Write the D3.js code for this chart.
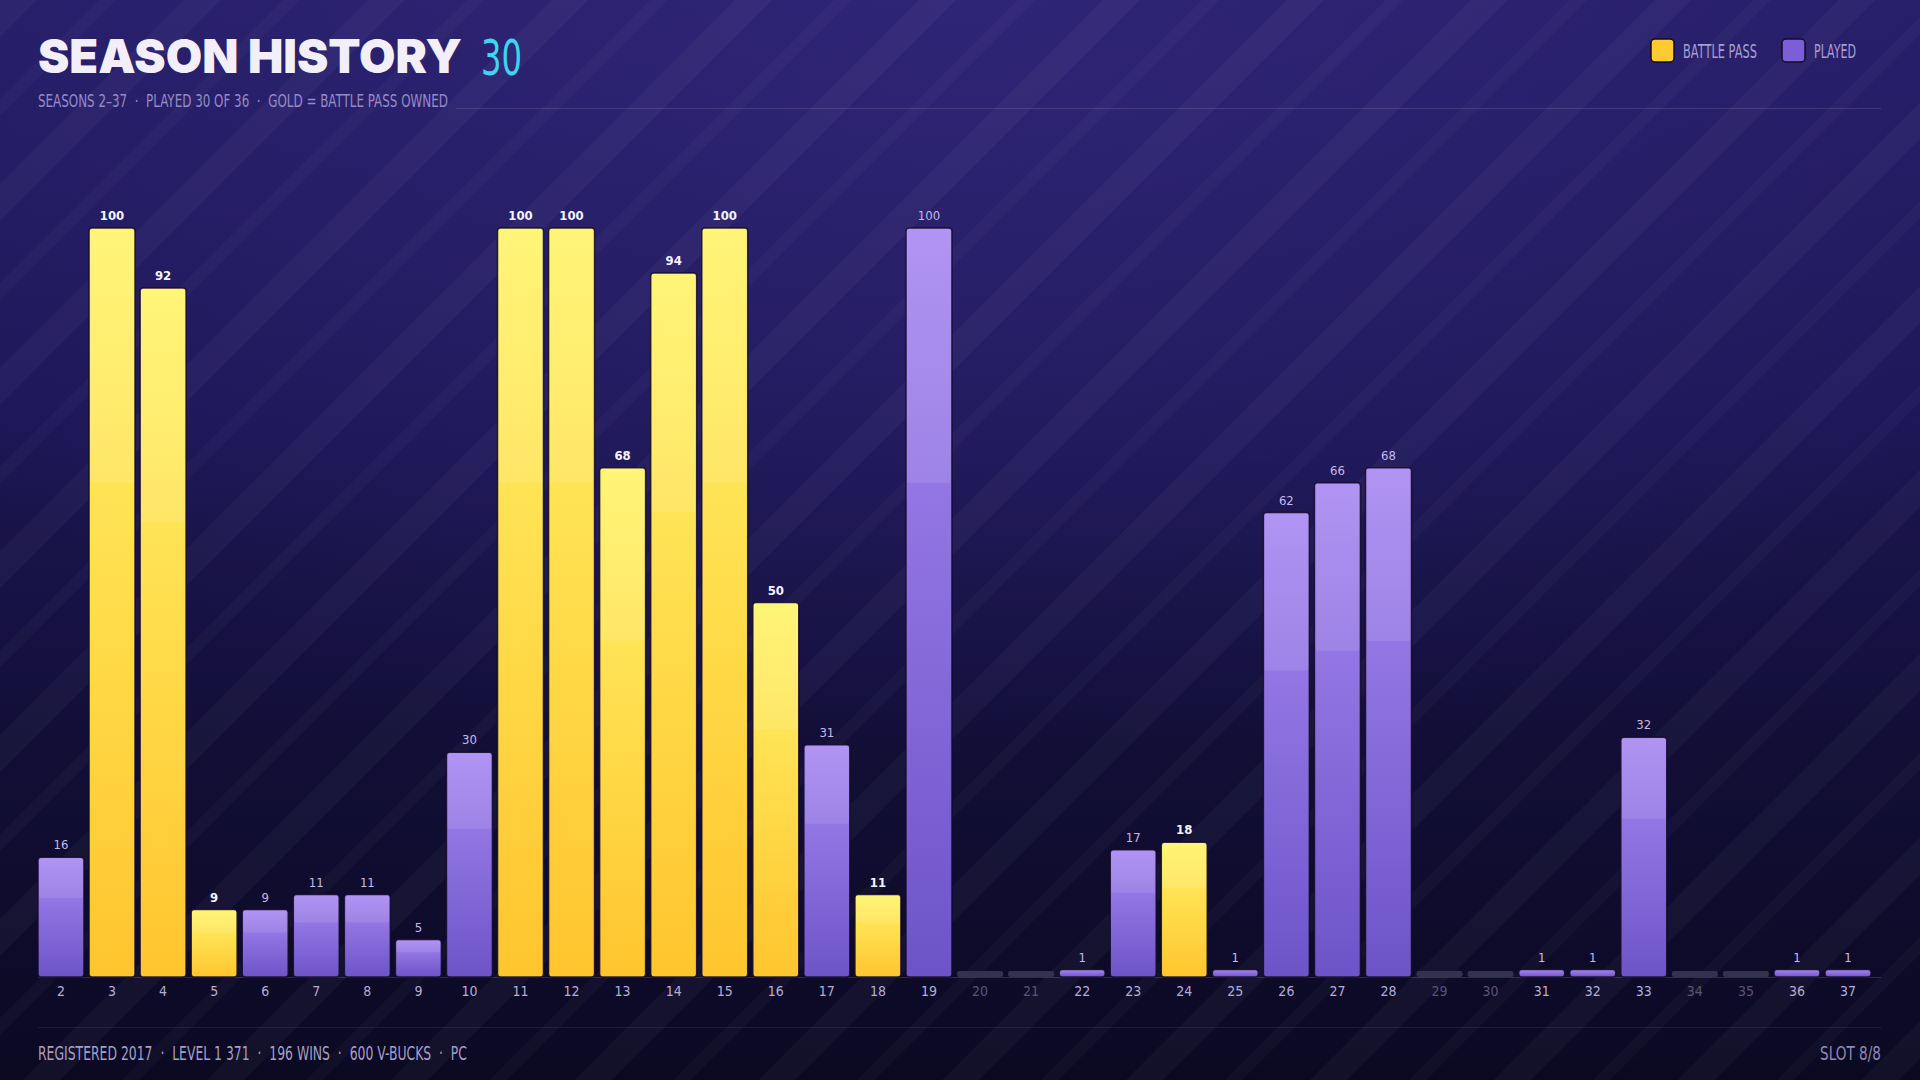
<!DOCTYPE html>
<html>
<head>
<meta charset="utf-8">
<script src="https://cdn.jsdelivr.net/npm/d3@7"></script>
<style>
  html, body { margin: 0; padding: 0; background: #120e34; }
  svg { display: block; }
</style>
</head>
<body>
<svg id="chart" width="1920" height="1080"></svg>
<script>
// season history data
var seasons = [2, 3, 4, 5, 6, 7, 8, 9, 10, 11, 12, 13, 14, 15, 16, 17, 18, 19, 20,
               21, 22, 23, 24, 25, 26, 27, 28, 29, 30, 31, 32, 33, 34, 35, 36, 37];
var levels = [16, 100, 92, 9, 9, 11, 11, 5, 30, 100, 100, 68, 94, 100, 50, 31, 11, 100, 0,
              0, 1, 17, 18, 1, 62, 66, 68, 0, 0, 1, 1, 32, 0, 0, 1, 1];
var battlePass = [0, 1, 1, 1, 0, 0, 0, 0, 0, 1, 1, 1, 1, 1, 1, 0, 1, 0, 0,
                  0, 0, 0, 1, 0, 0, 0, 0, 0, 0, 0, 0, 0, 0, 0, 0, 0];
var legendItems = ['BATTLE PASS', 'PLAYED'];
var titleText = 'SEASON HISTORY';
var titleCount = '30';
var subtitleText = 'SEASONS 2\u201337  \u00b7  PLAYED 30 OF 36  \u00b7  GOLD = BATTLE PASS OWNED';
var footerText = 'REGISTERED 2017  \u00b7  LEVEL 1 371  \u00b7  196 WINS  \u00b7  600 V-BUCKS  \u00b7  PC';
var slotText = 'SLOT 8/8';

var W = 1920, H = 1080;
var left = 38, right = 1881;
var baseY = 977, topY = 228;
var cond = '"Liberation Sans Narrow", "DejaVu Sans Condensed", "Roboto Condensed", sans-serif';

var data = seasons.map(function(s, i) {
  return {season: s, level: levels[i], bp: battlePass[i] === 1, played: levels[i] > 0};
});

var svg = d3.select('#chart');
var defs = svg.append('defs');

// background
var bg = defs.append('linearGradient').attr('id', 'bg')
  .attr('x1', 0).attr('y1', 0).attr('x2', 0).attr('y2', 1);
bg.append('stop').attr('offset', '0%').attr('stop-color', '#251c66');
bg.append('stop').attr('offset', '35%').attr('stop-color', '#1e1758');
bg.append('stop').attr('offset', '70%').attr('stop-color', '#120e36');
bg.append('stop').attr('offset', '100%').attr('stop-color', '#0b0922');

var glow = defs.append('radialGradient').attr('id', 'glow')
  .attr('cx', '50%').attr('cy', '0%').attr('r', '70%');
glow.append('stop').attr('offset', '0%').attr('stop-color', '#3a2e86').attr('stop-opacity', 0.5);
glow.append('stop').attr('offset', '100%').attr('stop-color', '#3a2e86').attr('stop-opacity', 0);

var stripes = defs.append('pattern').attr('id', 'stripes')
  .attr('patternUnits', 'userSpaceOnUse')
  .attr('width', 130).attr('height', 130)
  .attr('patternTransform', 'rotate(45)');
stripes.append('rect').attr('x', 0).attr('y', 0).attr('width', 26).attr('height', 130)
  .attr('fill', '#ffffff').attr('opacity', 0.03);
stripes.append('rect').attr('x', 70).attr('y', 0).attr('width', 12).attr('height', 130)
  .attr('fill', '#ffffff').attr('opacity', 0.022);

svg.append('rect').attr('width', W).attr('height', H).attr('fill', 'url(#bg)');
svg.append('rect').attr('width', W).attr('height', H).attr('fill', 'url(#glow)');
svg.append('rect').attr('width', W).attr('height', H).attr('fill', 'url(#stripes)');

// bar gradients
var gold = defs.append('linearGradient').attr('id', 'gold')
  .attr('x1', 0).attr('y1', 0).attr('x2', 0).attr('y2', 1);
gold.append('stop').attr('offset', '0%').attr('stop-color', '#fff46a');
gold.append('stop').attr('offset', '100%').attr('stop-color', '#ffc52e');

var purple = defs.append('linearGradient').attr('id', 'purple')
  .attr('x1', 0).attr('y1', 0).attr('x2', 0).attr('y2', 1);
purple.append('stop').attr('offset', '0%').attr('stop-color', '#a888f2');
purple.append('stop').attr('offset', '100%').attr('stop-color', '#6c54c8');

// scales
var x = d3.scaleBand()
  .domain(seasons)
  .range([left, 1871])
  .paddingInner(0.1)
  .paddingOuter(0);

var y = d3.scaleLinear()
  .domain([0, 100])
  .range([baseY, topY]);

// header
svg.append('text')
  .attr('x', left).attr('y', 73)
  .attr('font-family', 'Inter, "DejaVu Sans", sans-serif')
  .attr('font-weight', 900)
  .attr('font-size', 47)
  .attr('fill', '#f2effb')
  .attr('textLength', 424)
  .attr('lengthAdjust', 'spacingAndGlyphs')
  .text(titleText);

svg.append('text')
  .attr('x', 481).attr('y', 75)
  .attr('font-family', cond)
  .attr('font-size', 50)
  .attr('fill', '#3dd5f0')
  .attr('textLength', 41)
  .attr('lengthAdjust', 'spacingAndGlyphs')
  .text(titleCount);

svg.append('text')
  .attr('x', left).attr('y', 107)
  .attr('font-family', cond)
  .attr('font-size', 18)
  .attr('fill', '#938cc6')
  .attr('textLength', 410)
  .attr('lengthAdjust', 'spacingAndGlyphs')
  .style('white-space', 'pre')
  .text(subtitleText);

svg.append('line')
  .attr('x1', 456).attr('x2', right)
  .attr('y1', 108.5).attr('y2', 108.5)
  .attr('stroke', '#ffffff').attr('stroke-opacity', 0.12);

// legend
var legendX = [1651, 1782];
var legendW = [74, 42];
var lg = svg.append('g').selectAll('g')
  .data(legendItems)
  .enter().append('g')
  .attr('transform', function(d, i) { return 'translate(' + legendX[i] + ',39)'; });
lg.append('rect')
  .attr('width', 23).attr('height', 23).attr('rx', 4)
  .attr('fill', function(d, i) { return i === 0 ? '#ffcb30' : '#7a5fd8'; })
  .attr('stroke', '#140b26').attr('stroke-width', 1.5);
lg.append('text')
  .attr('x', 32).attr('y', 19)
  .attr('font-family', cond)
  .attr('font-size', 19)
  .attr('fill', '#a59fd2')
  .attr('textLength', function(d, i) { return legendW[i]; })
  .attr('lengthAdjust', 'spacingAndGlyphs')
  .text(function(d) { return d; });

// axis baseline
svg.append('line')
  .attr('x1', left).attr('x2', right)
  .attr('y1', baseY + 0.5).attr('y2', baseY + 0.5)
  .attr('stroke', '#ffffff').attr('stroke-opacity', 0.14);

// bars
var bars = svg.append('g').selectAll('g.bar')
  .data(data)
  .enter().append('g')
  .attr('class', 'bar');

bars.filter(function(d) { return !d.played; })
  .append('rect')
  .attr('x', function(d) { return x(d.season); })
  .attr('y', baseY - 6)
  .attr('width', x.bandwidth())
  .attr('height', 6)
  .attr('rx', 2)
  .attr('fill', '#34304f');

var played = bars.filter(function(d) { return d.played; });

played.append('rect')
  .attr('x', function(d) { return x(d.season); })
  .attr('y', function(d) { return y(d.level); })
  .attr('width', x.bandwidth())
  .attr('height', function(d) { return baseY - y(d.level); })
  .attr('rx', 3)
  .attr('fill', function(d) { return d.bp ? 'url(#gold)' : 'url(#purple)'; })
  .attr('stroke', '#130a28')
  .attr('stroke-opacity', 0.85)
  .attr('stroke-width', 1.5);

// lighter top band on each bar
played.filter(function(d) { return d.level > 3; })
  .append('rect')
  .attr('x', function(d) { return x(d.season) + 1; })
  .attr('y', function(d) { return y(d.level) + 1; })
  .attr('width', x.bandwidth() - 2)
  .attr('height', function(d) { return (baseY - y(d.level)) * 0.34 - 1; })
  .attr('rx', 2)
  .attr('fill', '#ffffff')
  .attr('opacity', 0.1);

// value labels
played.append('text')
  .attr('x', function(d) { return x(d.season) + x.bandwidth() / 2; })
  .attr('y', function(d) { return y(d.level) - 8; })
  .attr('text-anchor', 'middle')
  .attr('font-family', cond)
  .attr('font-size', 13)
  .attr('font-weight', function(d) { return d.bp ? 700 : 400; })
  .attr('fill', function(d) { return d.bp ? '#f6f3ff' : '#c3bbe8'; })
  .text(function(d) { return d.level; });

// season ticks
var xAxis = d3.axisBottom(x).tickSize(0).tickPadding(8);
var ax = svg.append('g')
  .attr('transform', 'translate(0,' + (baseY + 1) + ')')
  .call(xAxis);
ax.select('.domain').remove();
ax.selectAll('text')
  .attr('font-family', cond)
  .attr('font-size', 14)
  .attr('fill', function(d, i) { return data[i].played ? '#b3add6' : '#5a5479'; });

// footer
svg.append('line')
  .attr('x1', left).attr('x2', right)
  .attr('y1', 1027.5).attr('y2', 1027.5)
  .attr('stroke', '#ffffff').attr('stroke-opacity', 0.08);

svg.append('text')
  .attr('x', left).attr('y', 1060)
  .attr('font-family', cond)
  .attr('font-size', 20)
  .attr('fill', '#a49fc6')
  .attr('textLength', 429)
  .attr('lengthAdjust', 'spacingAndGlyphs')
  .style('white-space', 'pre')
  .text(footerText);

svg.append('text')
  .attr('x', right).attr('y', 1060)
  .attr('text-anchor', 'end')
  .attr('font-family', cond)
  .attr('font-size', 20)
  .attr('fill', '#8f89b3')
  .attr('textLength', 61)
  .attr('lengthAdjust', 'spacingAndGlyphs')
  .text(slotText);
</script>
</body>
</html>
